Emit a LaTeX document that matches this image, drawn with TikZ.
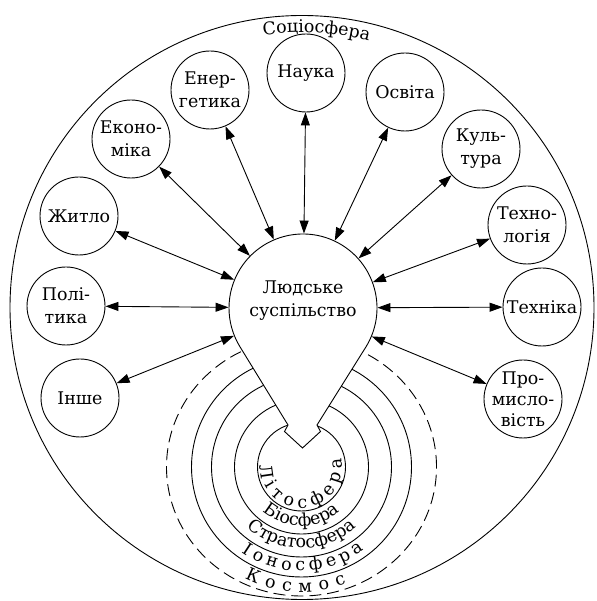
\documentclass[tikz,border=0pt]{standalone}
\usepackage{fontspec}
\setmainfont{DejaVu Serif}
\usetikzlibrary{arrows.meta,decorations.text}
\begin{document}
\begin{tikzpicture}[x=1bp,y=1bp,line width=0.9bp,
  txt/.style={font=\fontsize{17.5}{23}\selectfont,align=center,inner sep=0pt},
  bub/.style={circle,draw,minimum size=78bp,inner sep=0pt},
  arr/.style={{Triangle[length=13bp,width=9bp]}-{Triangle[length=13bp,width=9bp]}},
  dashring/.style={dash pattern=on 12bp off 6bp}]
\useasboundingbox (0,0) rectangle (597,601);
% big circle
\draw (302,293.5) circle[radius=292];
\begin{scope}[shift={(302,293.5)}]
\path[decorate,decoration={text along path,text align=center,
  text={|\fontsize{17.5}{20}\selectfont|Соціосфера}}]
  (102:275) arc[start angle=102,end angle=72,radius=275];
\end{scope}
% rings
\begin{scope}[shift={(301.5,134)}]
\draw (0,0) circle[radius=44];
\draw (0,0) circle[radius=67];
\draw (0,0) circle[radius=90];
\draw (0,0) circle[radius=110];
\draw[dashring] (0,0) ellipse[x radius=135,y radius=129];
\path[decorate,decoration={text along path,text align={fit to path},
  text={|\fontsize{17.5}{20}\selectfont|Літосфера}}]
  (178:41) arc[start angle=178,end angle=372,radius=41];
\path[decorate,decoration={text along path,text align=center,
  text={|\fontsize{17.5}{20}\selectfont|Біосфера}}]
  (200:59) arc[start angle=200,end angle=340,radius=59];
\path[decorate,decoration={text along path,text align=center,
  text={|\fontsize{17.5}{20}\selectfont|Стратосфера}}]
  (200:81) arc[start angle=200,end angle=340,radius=81];
\path[decorate,decoration={text along path,text align={fit to path},
  text={|\fontsize{17.5}{20}\selectfont|Іоносфера}}]
  (235:104) arc[start angle=235,end angle=307,radius=104];
\path[decorate,decoration={text along path,text align={fit to path},
  text={|\fontsize{17.5}{20}\selectfont|Космос}}]
  (243:125) arc[start angle=243,end angle=291,radius=125];
\end{scope}
% teardrop
\draw[fill=white] (365.98,254.16) arc[start angle=-31.66,end angle=211.66,radius=74]
  -- (288,176) -- (284.5,169.5) -- (302.5,153) -- (320.5,169.5) -- (317,176) -- cycle;
\node[circle,minimum size=148bp,inner sep=0pt] (soc) at (303,293) {};
\node[txt] (soct) at (303,300) {Людське\\суспільство};
% outer bubbles
\node[bub] (en) at (210,511) {};
\node[bub] (ek) at (131,462) {};
\node[bub] (na) at (306,528) {};
\node[bub] (os) at (405,509) {};
\node[bub] (ku) at (481,452) {};
\node[bub] (tl) at (527,376) {};
\node[bub] (tk) at (542,294) {};
\node[bub] (pr) at (523,202) {};
\node[bub] (zh) at (79,385) {};
\node[bub] (po) at (66,295) {};
\node[bub] (in) at (80,203) {};
\node[txt] (ent) at (en) {Енер-\\гетика};
\node[txt] (ekt) at (ek) {Еконо-\\міка};
\node[txt] (nat) at (na) {Наука};
\node[txt] (ost) at (os) {Освіта};
\node[txt] (kut) at (ku) {Куль-\\тура};
\node[txt] (tlt) at (tl) {Техно-\\логія};
\node[txt] (tkt) at (tk) {Техніка};
\node[txt,font=\fontsize{17.5}{21}\selectfont] (prt) at (pr) {Про-\\мисло-\\вість};
\node[txt] (zht) at (zh) {Житло};
\node[txt] (pot) at (po) {Полі-\\тика};
\node[txt] (int) at (in) {Інше};
% arrows
\foreach \n in {en,ek,na,os,ku,tl,tk,pr,zh,po,in}
  \draw[arr] (\n) -- (soc);
\end{tikzpicture}
\end{document}
